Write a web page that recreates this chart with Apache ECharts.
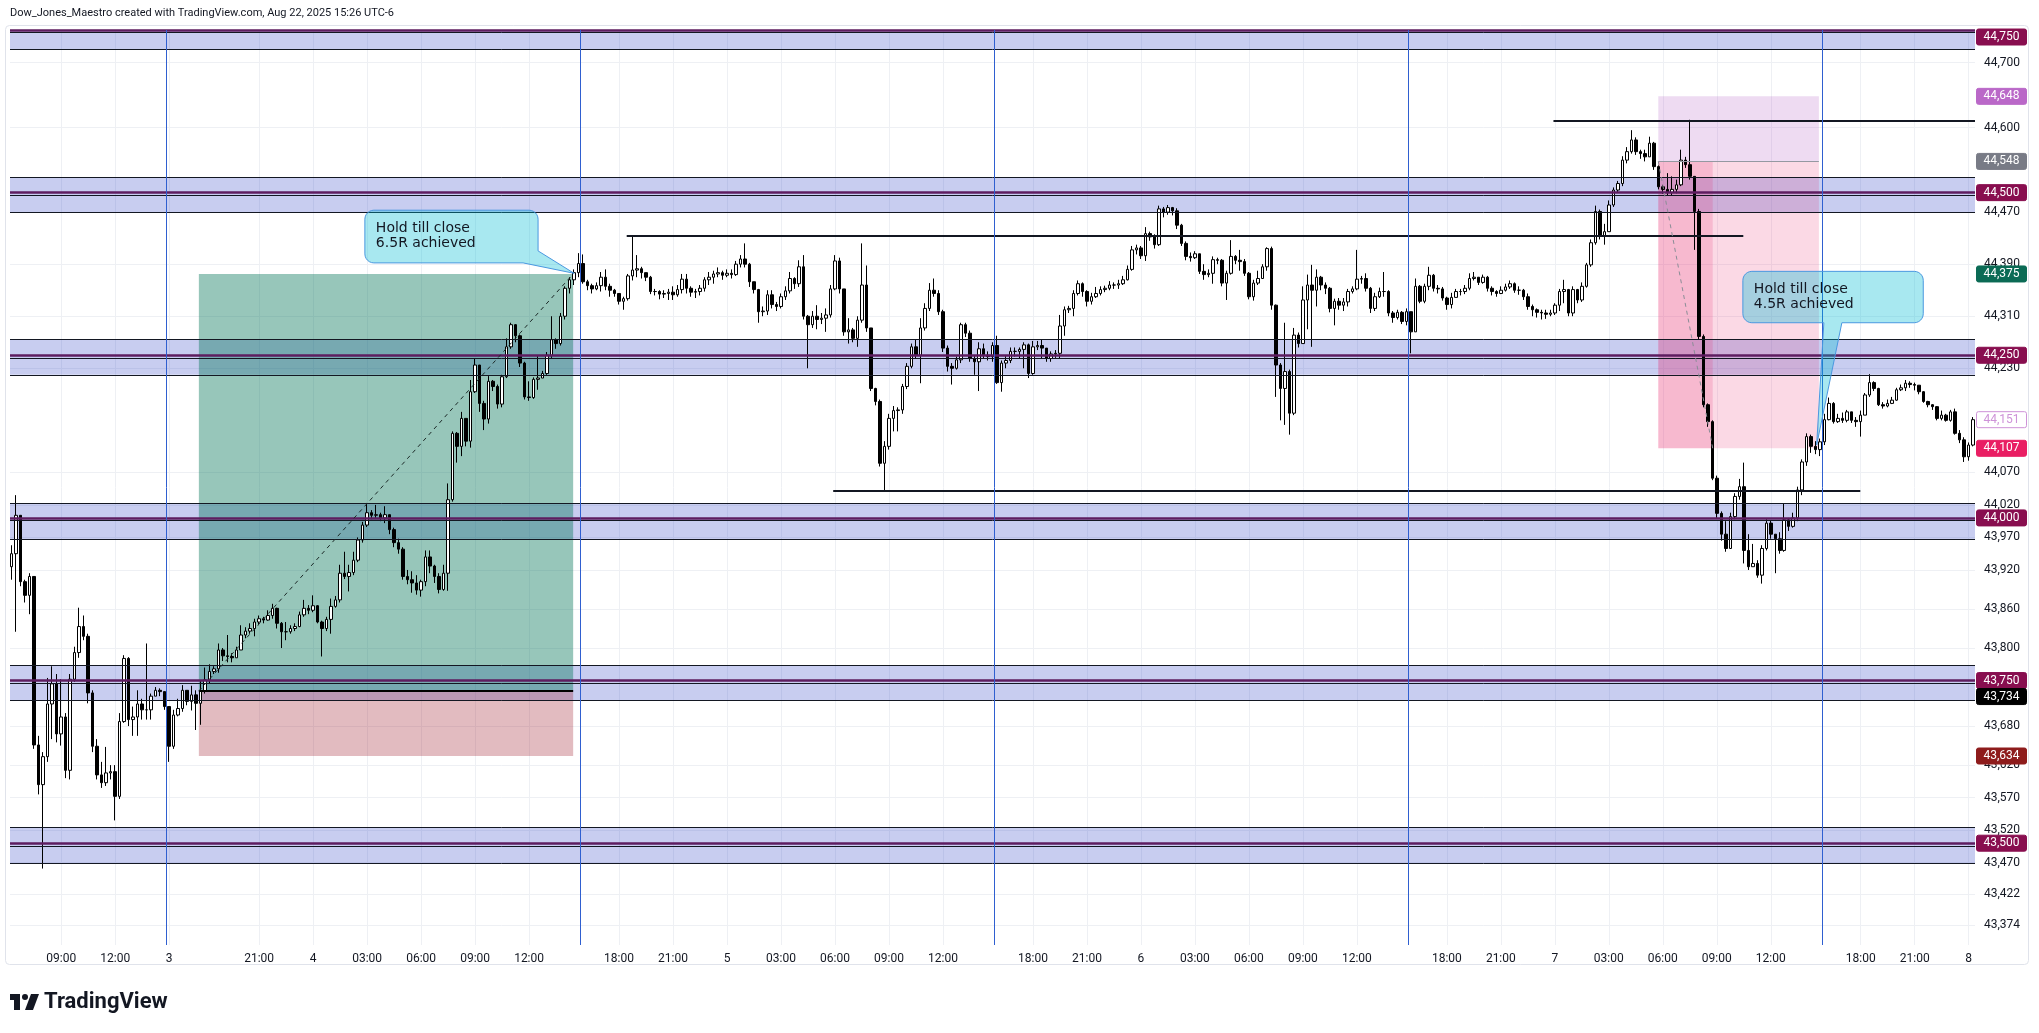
<!DOCTYPE html>
<html lang="en">
<head>
<meta charset="UTF-8">
<title>US30 15m</title>
<script src="https://cdn.jsdelivr.net/npm/echarts@6/dist/echarts.min.js"></script>
<style>
html,body{margin:0;padding:0;background:#fff;}
#main{width:2039px;height:1033px;}
</style>
</head>
<body>
<div id="main"></div>
<script>
// ---------- data (15 min bars, index 0 = Aug 1 06:15) ----------
var firstOpen = 43925;

// Aug 1 (Fri) bars 0-34
var closeAug1 = [43945,44004,43902,43881,43910,43651,43590,43633,43714,43745,43668,43694,43612,43752,43793,43833,43818,43731,43649,43605,43593,43608,43610,43572,43687,43784,43690,43694,43714,43705,43705,43726,43735,43733,43710];
var highAug1  = [43958,44035,44000,43905,43915,43910,43665,43640,43754,43772,43760,43752,43700,43760,43802,43862,43850,43822,43735,43660,43625,43648,43620,43620,43700,43789,43786,43710,43735,43722,43807,43730,43740,43738,43725];
var lowAug1   = [43905,43825,43895,43870,43852,43645,43575,43461,43625,43660,43655,43650,43600,43598,43748,43785,43812,43715,43640,43598,43585,43588,43598,43535,43568,43685,43680,43665,43665,43690,43690,43690,43728,43726,43705];

// session opening Aug 3 16:00, bars 35-126
var closeAug4 = [43649,43697,43707,43735,43718,43728,43715,43734,43751,43764,
  43768,43797,43788,43787,43785,43797,43820,43826,43830,43840,
  43845,43843,43850,43861,43838,43825,43825,43830,43833,43851,
  43861,43858,43865,43840,43830,43844,43864,43874,43915,43910,
  43916,43935,43966,43989,44008,44004,44005,44000,44005,43982,
  43962,43952,43910,43905,43900,43889,43902,43940,43926,43910,
  43890,43915,44028,44130,44110,44153,44118,44194,44235,44176,
  44152,44210,44202,44175,44217,44263,44297,44280,44238,44186,
  44185,44213,44215,44222,44250,44274,44268,44310,44353,44366,
  44377,44391];
var highAug4 = [43700,43705,43722,43743,43735,43742,43735,43750,43770,43775,
  43772,43807,43800,43820,43792,43802,43835,43832,43838,43845,
  43850,43848,43858,43868,43862,43840,43840,43835,43838,43856,
  43874,43866,43881,43866,43842,43848,43876,43880,43928,43948,
  43928,43948,43970,43994,44023,44012,44020,44008,44018,44005,
  43985,43968,43955,43920,43918,43912,43905,43950,43950,43928,
  43915,43928,44053,44133,44132,44163,44150,44212,44245,44234,
  44180,44218,44212,44205,44220,44276,44300,44298,44282,44240,
  44210,44216,44250,44226,44255,44310,44276,44315,44356,44370,
  44382,44407];
var lowAug4 = [43625,43645,43695,43702,43712,43704,43674,43682,43730,43745,
  43760,43762,43780,43778,43778,43785,43800,43815,43822,43818,
  43835,43838,43842,43845,43830,43800,43812,43822,43826,43832,
  43848,43852,43855,43838,43787,43826,43822,43862,43870,43906,
  43887,43912,43932,43962,43986,43998,44000,43995,43992,43975,
  43955,43945,43905,43898,43885,43882,43879,43895,43915,43900,
  43884,43888,43888,44025,44085,44095,44110,44108,44192,44163,
  44135,44145,44195,44168,44170,44215,44260,44270,44232,44182,
  44180,44183,44197,44215,44220,44246,44260,44265,44305,44345,
  44358,44370];

// session Aug 4 16:00, bars 127-218
var closeAug5 = [44363,44357,44352,44357,44370,44356,44350,44345,44333,44337,
  44372,44381,44383,44377,44370,44348,44348,44344,44345,44347,
  44343,44351,44367,44353,44347,44348,44353,44366,44370,44375,
  44377,44373,44376,44374,44390,44398,44390,44363,44351,44317,
  44318,44343,44328,44325,44340,44349,44368,44360,44386,44310,
  44297,44310,44305,44307,44312,44352,44395,44352,44286,44289,
  44276,44304,44358,44292,44199,44179,44084,44110,44153,44165,
  44166,44202,44233,44263,44250,44292,44322,44350,44345,44317,
  44261,44233,44230,44243,44297,44284,44245,44240,44260,44250,
  44248,44265];
var highAug5 = [44405,44366,44360,44362,44378,44382,44360,44352,44343,44340,
  44375,44434,44404,44386,44375,44372,44352,44350,44350,44352,
  44356,44358,44375,44375,44356,44352,44358,44370,44378,44380,
  44385,44380,44382,44382,44395,44404,44422,44392,44363,44352,
  44325,44350,44350,44332,44345,44356,44378,44370,44396,44404,
  44312,44318,44327,44315,44322,44358,44404,44400,44345,44307,
  44292,44310,44422,44388,44290,44200,44182,44118,44160,44172,
  44170,44206,44238,44268,44275,44307,44330,44361,44368,44350,
  44320,44265,44238,44248,44300,44300,44288,44250,44270,44268,
  44256,44270];
var lowAug5 = [44360,44350,44345,44350,44348,44350,44340,44340,44328,44320,
  44334,44365,44370,44368,44364,44344,44342,44336,44338,44335,
  44335,44340,44345,44345,44340,44338,44342,44348,44358,44360,
  44370,44366,44370,44368,44372,44385,44385,44355,44345,44300,
  44310,44312,44322,44318,44322,44335,44345,44352,44355,44305,
  44230,44292,44290,44298,44286,44308,44350,44345,44280,44268,
  44270,44263,44300,44286,44195,44173,44079,44041,44105,44133,
  44133,44160,44198,44230,44245,44207,44288,44318,44340,44312,
  44255,44225,44205,44228,44238,44278,44240,44220,44195,44245,
  44242,44240];

// session Aug 5 16:00, bars 219-310
var closeAug6 = [44208,44238,44242,44256,44256,44259,44266,44222,44263,44265,
  44261,44245,44252,44253,44295,44320,44322,44345,44360,44348,
  44333,44340,44345,44351,44353,44358,44358,44360,44366,44382,
  44412,44415,44403,44437,44432,44420,44475,44470,44477,44472,
  44450,44422,44402,44400,44406,44379,44374,44376,44397,44396,
  44361,44376,44402,44396,44394,44376,44340,44361,44368,44386,
  44414,44327,44235,44199,44225,44161,44281,44268,44335,44358,
  44350,44370,44358,44353,44322,44333,44327,44332,44348,44352,
  44367,44368,44353,44322,44340,44348,44348,44315,44308,44316,
  44302,44317];
var highAug6 = [44280,44242,44250,44262,44262,44262,44270,44268,44272,44272,
  44274,44258,44256,44258,44312,44325,44326,44350,44365,44362,
  44350,44346,44355,44356,44357,44364,44362,44366,44372,44388,
  44418,44420,44418,44447,44440,44436,44480,44478,44481,44478,
  44476,44452,44425,44408,44410,44405,44390,44382,44402,44400,
  44398,44380,44427,44404,44412,44398,44378,44366,44380,44390,
  44416,44417,44328,44238,44300,44228,44292,44285,44356,44374,
  44389,44382,44372,44362,44355,44337,44338,44338,44352,44356,
  44412,44372,44376,44355,44346,44354,44378,44350,44318,44320,
  44318,44322];
var lowAug6 = [44206,44194,44230,44238,44248,44245,44230,44215,44220,44258,
  44245,44240,44240,44246,44245,44280,44315,44310,44342,44340,
  44325,44328,44338,44342,44347,44350,44352,44352,44358,44365,
  44380,44405,44398,44395,44426,44414,44418,44462,44466,44465,
  44444,44418,44396,44394,44398,44375,44366,44370,44360,44390,
  44356,44335,44374,44390,44380,44372,44336,44334,44358,44368,
  44380,44320,44186,44150,44143,44128,44158,44262,44278,44290,
  44263,44325,44350,44344,44316,44296,44320,44318,44325,44345,
  44350,44360,44348,44315,44318,44338,44340,44310,44300,44305,
  44298,44296];

// session Aug 6 16:00, bars 311-402
var closeAug7 = [44286,44356,44333,44356,44373,44353,44352,44338,44328,44339,
  44348,44348,44353,44368,44370,44362,44370,44353,44348,44345,
  44350,44355,44360,44350,44350,44340,44325,44320,44316,44315,
  44313,44315,44327,44348,44351,44315,44351,44335,44356,44389,
  44423,44471,44433,44440,44481,44504,44514,44550,44563,44581,
  44563,44560,44555,44576,44540,44509,44505,44500,44505,44512,
  44550,44543,44525,44471,44279,44174,44148,44061,44007,43975,
  43953,44002,44033,44048,43950,43925,43930,43912,43953,43992,
  43975,43968,43950,43997,43987,44000,44043,44086,44125,44110,
  44105,44117];
var highAug7 = [44312,44368,44358,44360,44386,44375,44358,44355,44340,44346,
  44352,44352,44358,44376,44378,44370,44374,44372,44356,44350,
  44356,44360,44365,44362,44356,44352,44345,44328,44322,44320,
  44320,44320,44330,44352,44366,44352,44356,44352,44362,44392,
  44428,44480,44474,44452,44488,44508,44518,44556,44570,44596,
  44585,44566,44566,44586,44578,44542,44512,44530,44525,44520,
  44566,44555,44612,44525,44475,44282,44176,44150,44065,44010,
  43995,44008,44038,44060,44085,43975,43960,43935,43958,43998,
  43996,43975,43978,44022,44000,44008,44048,44090,44130,44128,
  44118,44122];
var lowAug7 = [44253,44288,44330,44330,44350,44348,44345,44334,44320,44322,
  44340,44342,44344,44350,44365,44358,44360,44348,44342,44340,
  44344,44348,44352,44346,44343,44335,44320,44310,44308,44305,
  44306,44310,44312,44318,44330,44310,44310,44330,44332,44354,
  44386,44420,44428,44420,44440,44478,44500,44510,44545,44560,
  44558,44552,44548,44555,44535,44505,44498,44495,44495,44499,
  44510,44538,44520,44412,44275,44170,44140,44058,44000,43965,
  43948,43960,43998,44028,43930,43920,43925,43908,43899,43950,
  43968,43915,43945,43948,43980,43985,43995,44035,44080,44100,
  44098,44095];

// session Aug 7 16:00, bars 403-436
var closeAug8 = [44151,44176,44148,44153,44150,44163,44150,44148,44158,44189,
  44208,44199,44174,44172,44176,44181,44197,44200,44207,44205,
  44204,44194,44179,44174,44171,44153,44158,44150,44163,44130,
  44120,44094,44112,44151];
var highAug8 = [44160,44185,44178,44160,44162,44166,44160,44155,44165,44192,
  44221,44210,44200,44178,44182,44186,44200,44205,44212,44210,
  44208,44202,44195,44180,44175,44172,44165,44160,44166,44168,
  44135,44124,44116,44155];
var lowAug8 = [44112,44150,44145,44146,44146,44147,44146,44140,44125,44160,
  44186,44195,44172,44168,44170,44175,44180,44195,44195,44200,
  44196,44190,44177,44170,44166,44150,44150,44148,44148,44128,
  44115,44086,44088,44110];

// time scale labels (bar index -> text)
var timeBars = [11,23,35,55,67,79,91,103,115,135,147,159,171,183,195,207,227,239,251,263,275,287,299,319,331,343,355,367,379,391,411,423,435];
var timeText = ['09:00','12:00','3','21:00','4','03:00','06:00','09:00','12:00','18:00','21:00','5','03:00','06:00','09:00','12:00','18:00','21:00','6','03:00','06:00','09:00','12:00','18:00','21:00','7','03:00','06:00','09:00','12:00','18:00','21:00','8'];
var sessionBreaks = [34.4, 126.3, 218.3, 310.4, 402.4];

// price scale
var priceTicks = [44700,44600,44470,44390,44310,44230,44070,44020,43970,43920,43860,43800,43680,43620,43570,43520,43470,43422,43374];

// supply/demand zones
var zoneLevel  = [44750, 44500, 44250, 44000, 43750, 43500];
var zoneTop    = [44774, 44524, 44274, 44023, 43774, 43524];
var zoneBottom = [44720, 44470, 44220, 43967, 43719, 43469];

// horizontal levels [fromBar, toBar, price]
var levelLines = [
  [136.7, 384.9, 44434],
  [182.6, 410.9, 44042],
  [-0.4, 310.4, 43962],
  [342.7, 436.4, 44611],
  [-0.4, 6.7, 44416]
];

// long position (Aug 3-4) and short position (Aug 7)
var longPos  = {start: 41.6, end: 124.8, entry: 43734, target: 44375, stop: 43634};
var shortPos = {start: 366, end: 401.7, entry: 44548, stop: 44648, target: 44107, closed: 378.1};

// notes: box corners [bar, price] and tip
var notes = [
  {text: 'Hold till close\n6.5R achieved', tl: [78.5, 44473], br: [117, 44392], tip: [125, 44376], tail: 'corner'},
  {text: 'Hold till close\n4.5R achieved', tl: [384.8, 44379], br: [424.9, 44300], tip: [401.2, 44112], tail: 'bottom'}
];

// price tags [price, background, text colour, border]
var tags = [
  [44750, '#880e4f', '#ffffff', null],
  [44648, '#ba68c8', '#ffffff', null],
  [44548, '#787b86', '#ffffff', null],
  [44500, '#880e4f', '#ffffff', null],
  [44375, '#0b6b55', '#ffffff', null],
  [44250, '#880e4f', '#ffffff', null],
  [44151, '#ffffff', '#ce93d8', '#ce93d8'],
  [44107, '#e91e63', '#ffffff', null],
  [44000, '#880e4f', '#ffffff', null],
  [43750, '#880e4f', '#ffffff', null],
  [43734, '#000000', '#ffffff', null],
  [43634, '#8e1c1c', '#ffffff', null],
  [43500, '#880e4f', '#ffffff', null]
];

// ---------- build ----------
var closes = [].concat(closeAug1, closeAug4, closeAug5, closeAug6, closeAug7, closeAug8);
var highs  = [].concat(highAug1, highAug4, highAug5, highAug6, highAug7, highAug8);
var lows   = [].concat(lowAug1, lowAug4, lowAug5, lowAug6, lowAug7, lowAug8);
var candles = [];
var prev = firstOpen;
for (var i = 0; i < closes.length; i++) {
  var o = prev, c = closes[i];
  candles.push([i, o, c, Math.min(lows[i], o, c), Math.max(highs[i], o, c)]);
  prev = c;
}

var xMin = -0.38, xMax = 436.4, yMin = 43343.5, yMax = 44750;
var G = {left: 10, right: 64, top: 30, bottom: 88};

// grid lines
var gridLines = [];
timeBars.forEach(function (b) { gridLines.push({xAxis: b}); });
priceTicks.forEach(function (p) { gridLines.push({yAxis: p}); });

// filled areas
var areas = [];
for (var k = 0; k < zoneLevel.length; k++) {
  areas.push([{yAxis: zoneBottom[k], itemStyle: {color: 'rgba(50,72,200,0.27)'}}, {yAxis: Math.min(zoneTop[k], yMax)}]);
}
areas.push([{coord: [longPos.start, longPos.entry], itemStyle: {color: 'rgba(8,120,90,0.42)'}}, {coord: [longPos.end, longPos.target]}]);
areas.push([{coord: [longPos.start, longPos.stop], itemStyle: {color: 'rgba(160,30,45,0.3)'}}, {coord: [longPos.end, longPos.entry]}]);
areas.push([{coord: [shortPos.start, shortPos.entry], itemStyle: {color: 'rgba(156,39,176,0.17)'}}, {coord: [shortPos.end, shortPos.stop]}]);
areas.push([{coord: [shortPos.start, shortPos.target], itemStyle: {color: 'rgba(233,30,99,0.17)'}}, {coord: [shortPos.end, shortPos.entry]}]);
areas.push([{coord: [shortPos.start, shortPos.target], itemStyle: {color: 'rgba(233,30,99,0.17)'}}, {coord: [shortPos.closed, shortPos.entry]}]);

// drawn lines
function seg(x1, x2, y, style) {
  style.type = style.type || 'solid';
  return [{coord: [x1, y], lineStyle: style}, {coord: [x2, y]}];
}
var lines = [];
for (var k = 0; k < zoneLevel.length; k++) {
  if (zoneTop[k] < yMax) lines.push(seg(xMin, xMax, zoneTop[k], {color: '#131722', width: 1}));
  lines.push(seg(xMin, xMax, zoneBottom[k], {color: '#131722', width: 1}));
  lines.push(seg(xMin, xMax, zoneLevel[k] - 4, {color: '#131722', width: 1}));
  lines.push(seg(xMin, xMax, zoneLevel[k], {color: '#5e1d60', width: 2.5}));
}
levelLines.forEach(function (l) { lines.push(seg(l[0], l[1], l[2], {color: '#131722', width: 2})); });
lines.push(seg(longPos.start, longPos.end, longPos.entry, {color: '#000000', width: 2}));
lines.push(seg(shortPos.start, shortPos.end, shortPos.entry, {color: '#9598a1', width: 1}));
lines.push([{coord: [longPos.start, longPos.entry], lineStyle: {color: '#1c2a28', width: 1, type: [4, 4]}}, {coord: [longPos.end, longPos.target]}]);
lines.push([{coord: [shortPos.start, shortPos.entry], lineStyle: {color: '#8a8d96', width: 1, type: [4, 4]}}, {coord: [shortPos.closed, shortPos.target]}]);
sessionBreaks.forEach(function (b) { lines.push({xAxis: b, lineStyle: {color: '#2f5fd0', width: 1, type: 'solid'}}); });

var chart = echarts.init(document.getElementById('main'));
chart.setOption({
  animation: false,
  backgroundColor: '#ffffff',
  grid: {left: G.left, right: G.right, top: G.top, bottom: G.bottom},
  xAxis: {
    type: 'value', min: xMin, max: xMax,
    axisLine: {show: false}, axisTick: {show: false}, splitLine: {show: false},
    axisLabel: {
      customValues: timeBars,
      formatter: function (v) { var j = timeBars.indexOf(v); return j < 0 ? '' : timeText[j]; },
      color: '#131722', fontFamily: 'Roboto', fontSize: 12, margin: 8
    }
  },
  yAxis: {
    type: 'value', position: 'right', min: yMin, max: yMax,
    axisLine: {show: false}, axisTick: {show: false}, splitLine: {show: false},
    axisLabel: {
      customValues: priceTicks,
      formatter: function (v) { return v.toLocaleString('en-US'); },
      color: '#131722', fontFamily: 'Roboto', fontSize: 12, margin: 9
    }
  },
  series: [
    {
      name: 'grid', type: 'line', data: [], silent: true,
      markLine: {silent: true, z: 0, symbol: ['none', 'none'], label: {show: false},
        lineStyle: {color: '#eef0f4', width: 1, type: 'solid'}, data: gridLines}
    },
    {
      name: 'zones', type: 'line', data: [], silent: true, clip: true,
      markArea: {silent: true, z: 1, data: areas}
    },
    {
      name: 'US30', type: 'candlestick', z: 2, data: candles,
      encode: {x: 0, y: [1, 2, 3, 4]},
      barWidth: 3,
      itemStyle: {color: '#ffffff', color0: '#000000', borderColor: '#000000', borderColor0: '#000000', borderWidth: 1}
    },
    {
      name: 'drawings', type: 'line', data: [], silent: true, clip: true,
      markLine: {silent: true, z: 3, symbol: ['none', 'none'], label: {show: false},
        lineStyle: {type: 'solid'}, data: lines}
    }
  ]
});

// ---------- overlays in pixels ----------
function px(b, p) { return chart.convertToPixel({xAxisIndex: 0, yAxisIndex: 0}, [b, p]); }
var plotTop = G.top, plotRight = 2039 - G.right;
var gfx = [];

// header and frame
gfx.push({type: 'rect', shape: {x: 5.5, y: 25.5, width: 2023, height: 939, r: 4}, style: {fill: 'none', stroke: '#e0e3eb', lineWidth: 1}, z: 1});
gfx.push({type: 'text', x: 10, y: 13, style: {text: 'Dow_Jones_Maestro created with TradingView.com, Aug 22, 2025 15:26 UTC-6', font: '11px Roboto', fill: '#131722', verticalAlign: 'middle'}, z: 10});

// callouts
function arc(cx, cy, r, a0, a1, pts) {
  for (var s = 0; s <= 6; s++) { var a = a0 + (a1 - a0) * s / 6; pts.push([cx + r * Math.cos(a), cy + r * Math.sin(a)]); }
}
notes.forEach(function (n) {
  var a = px(n.tl[0], n.tl[1]), b = px(n.br[0], n.br[1]), t = px(n.tip[0], n.tip[1]);
  var x0 = a[0], y0 = a[1], x1 = b[0], y1 = b[1], r = 9, pts = [];
  arc(x0 + r, y0 + r, r, Math.PI, Math.PI * 1.5, pts);
  arc(x1 - r, y0 + r, r, -Math.PI / 2, 0, pts);
  if (n.tail === 'corner') {
    pts.push([x1, y1 - 12], t, [x1 - 15, y1]);
  } else {
    arc(x1 - r, y1 - r, r, 0, Math.PI / 2, pts);
    pts.push([x0 + 99, y1], t, [x0 + 81, y1]);
  }
  arc(x0 + r, y1 - r, r, Math.PI / 2, Math.PI, pts);
  gfx.push({type: 'polygon', shape: {points: pts}, style: {fill: 'rgba(0,188,212,0.34)', stroke: '#4a98e0', lineWidth: 1}, z: 20});
  gfx.push({type: 'text', x: x0 + 11, y: y0 + 10, style: {text: n.text, font: '14px "DejaVu Sans"', fill: '#131722', lineHeight: 15.5, verticalAlign: 'top'}, z: 21});
});

// price tags, pushed apart when they would overlap
var tagPos = tags.map(function (t) { return {t: t, y: Math.max(px(0, t[0])[1], plotTop + 7)}; });
tagPos.sort(function (a, b) { return a.y - b.y; });
for (var q = 1; q < tagPos.length; q++) {
  if (tagPos[q].y - tagPos[q - 1].y < 16) tagPos[q].y = tagPos[q - 1].y + 16;
}
tagPos.forEach(function (tp) {
  var t = tp.t;
  gfx.push({type: 'rect', shape: {x: plotRight + 1.5, y: tp.y - 8, width: 50, height: 16, r: 2},
    style: {fill: t[1], stroke: t[3] || t[1], lineWidth: 1}, z: 30});
  gfx.push({type: 'text', x: plotRight + 26.5, y: tp.y, style: {text: t[0].toLocaleString('en-US'), font: '12px Roboto', fill: t[2], align: 'center', verticalAlign: 'middle'}, z: 31});
});

// TradingView mark
gfx.push({type: 'rect', shape: {x: 10, y: 994, width: 10, height: 6}, style: {fill: '#131722'}, z: 10});
gfx.push({type: 'rect', shape: {x: 14, y: 994, width: 6, height: 16}, style: {fill: '#131722'}, z: 10});
gfx.push({type: 'circle', shape: {cx: 25, cy: 997, r: 3}, style: {fill: '#131722'}, z: 10});
gfx.push({type: 'polygon', shape: {points: [[31, 994], [39, 994], [33, 1010], [25, 1010]]}, style: {fill: '#131722'}, z: 10});
gfx.push({type: 'text', x: 44, y: 1002, style: {text: 'TradingView', font: 'bold 22px Roboto', fill: '#131722', verticalAlign: 'middle'}, z: 10});

chart.setOption({graphic: gfx});
</script>
</body>
</html>
